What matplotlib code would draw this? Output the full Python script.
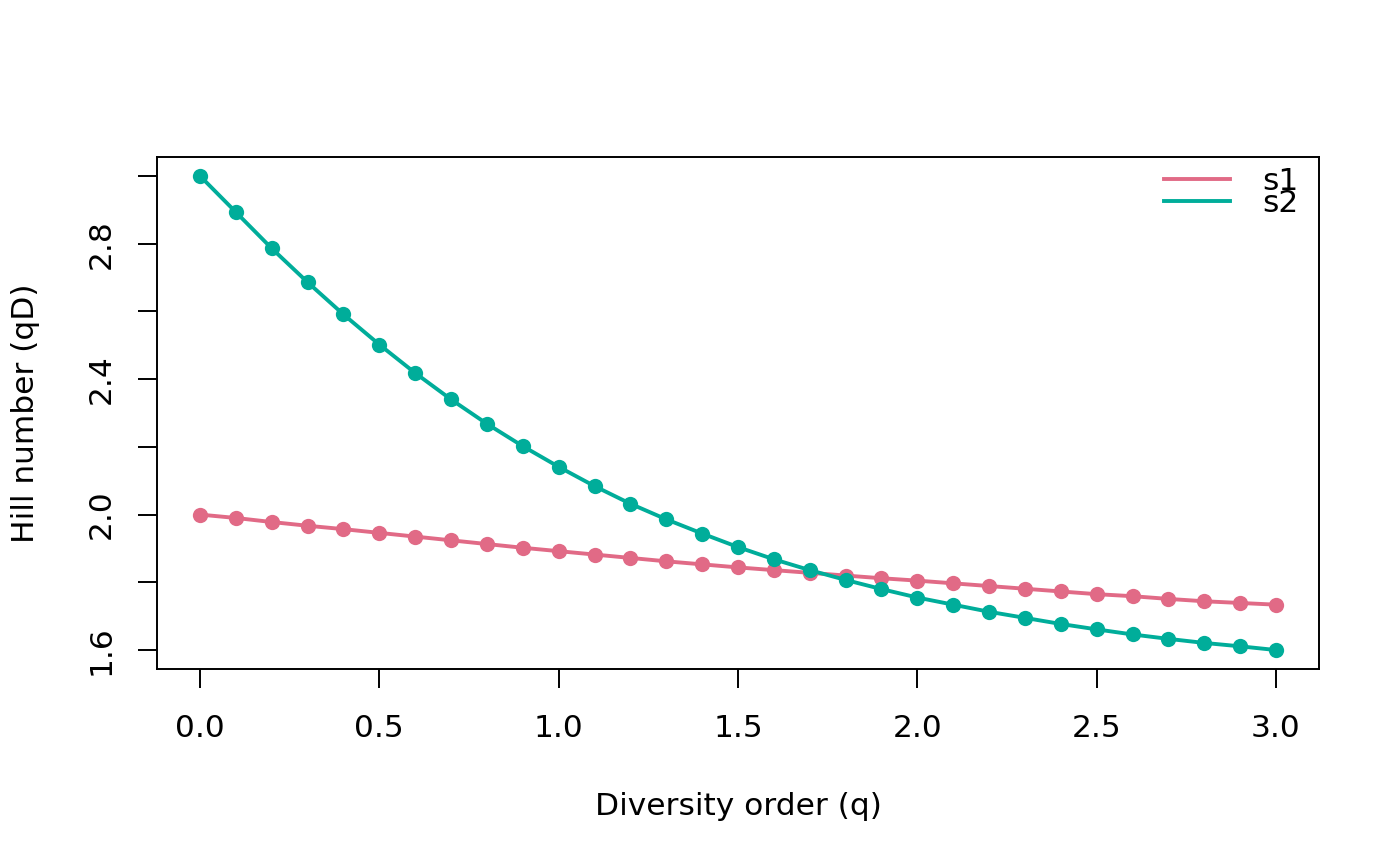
import matplotlib
matplotlib.use("Agg")
import matplotlib.pyplot as plt
from matplotlib.lines import Line2D

q = [0.0, 0.1, 0.2, 0.3, 0.4, 0.5, 0.6, 0.7, 0.8, 0.9, 1.0,
     1.1, 1.2, 1.3, 1.4, 1.5, 1.6, 1.7, 1.8, 1.9, 2.0,
     2.1, 2.2, 2.3, 2.4, 2.5, 2.6, 2.7, 2.8, 2.9, 3.0]
s1 = [2.000, 1.990, 1.978, 1.967, 1.957, 1.946, 1.935, 1.924, 1.913, 1.902, 1.892,
      1.882, 1.872, 1.862, 1.853, 1.844, 1.836, 1.828, 1.820, 1.812, 1.805,
      1.797, 1.789, 1.781, 1.773, 1.765, 1.759, 1.751, 1.744, 1.739, 1.734]
s2 = [3.000, 2.893, 2.786, 2.686, 2.591, 2.502, 2.418, 2.340, 2.268, 2.202, 2.141,
      2.084, 2.032, 1.986, 1.944, 1.904, 1.868, 1.836, 1.807, 1.780, 1.755,
      1.734, 1.713, 1.695, 1.677, 1.661, 1.646, 1.633, 1.621, 1.611, 1.600]
series = {"s1": s1, "s2": s2}
colors = {"s1": "#E16A86", "s2": "#00AD9A"}
xticks = [0.0, 0.5, 1.0, 1.5, 2.0, 2.5, 3.0]
yticks = [1.6, 1.8, 2.0, 2.2, 2.4, 2.6, 2.8, 3.0]
ylabels = ["1.6", "", "2.0", "", "2.4", "", "2.8", ""]

FS = 22.5
plt.rcParams['font.family'] = ['DejaVu Sans']
fig = plt.figure(figsize=(14, 8.66), dpi=100)
ax = fig.add_axes([157/1400, 1-669/866, (1319-157)/1400, (669-157)/866])

for name, vals in series.items():
    ax.plot(q, vals, color=colors[name], lw=2.8, marker='o', ms=11,
            markeredgewidth=0, label=name)

ax.set_xlim(-0.12, 3.12)
ax.set_ylim(1.544, 3.056)
ax.set_xticks(xticks)
ax.set_xticklabels([f"{v:.1f}" for v in xticks], fontsize=FS)
ax.set_yticks(yticks)
ax.set_yticklabels(ylabels, fontsize=FS, rotation=90, va='center')
ax.tick_params(axis='both', length=13.5, width=1.4, color='black')
ax.tick_params(axis='x', pad=19)
ax.tick_params(axis='y', pad=16)
for sp in ax.spines.values():
    sp.set_linewidth(1.4)

ax.set_xlabel("Diversity order (q)", fontsize=FS, labelpad=35)
ax.set_ylabel("Hill number (qD)", fontsize=FS, labelpad=34)

handles = [Line2D([0], [0], color=colors[n], lw=2.8) for n in series]
leg = ax.legend(handles, list(series.keys()), loc='upper right',
                bbox_to_anchor=(0.9914, 1.0), frameon=False, fontsize=FS,
                labelspacing=-0.24, handlelength=2.1, handletextpad=1.05,
                borderaxespad=-0.07)

fig.savefig("out.png", dpi=100)
